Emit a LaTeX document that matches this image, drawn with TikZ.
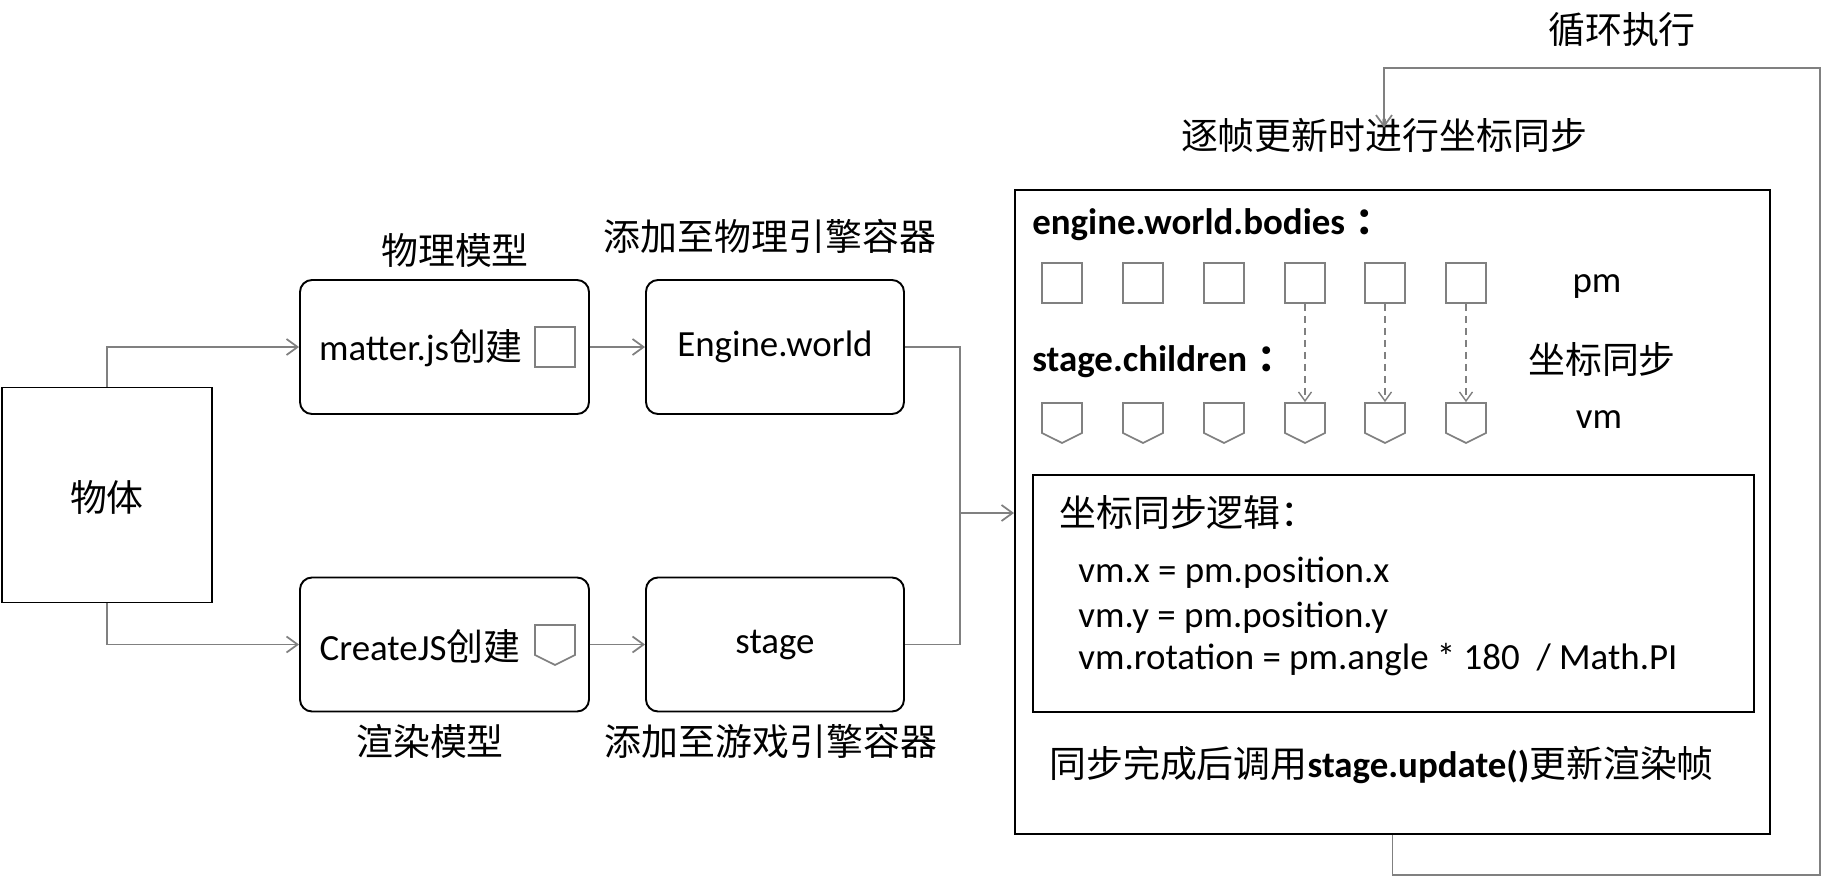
\documentclass[tikz,border=0pt]{standalone}
\usepackage{fontspec}
\setmainfont{Carlito}
\newfontfamily\cjk{Noto Sans CJK SC}
\usetikzlibrary{shapes,shapes.symbols,arrows.meta,positioning,calc}
\definecolor{lnkgray}{RGB}{128,128,128}
\newcommand{\zw}[1]{{\cjk #1}}

\begin{document}
\begin{tikzpicture}[x=0.2mm, y=-0.2mm,
  every node/.style={font=\fontsize{21pt}{25pt}\selectfont, inner sep=0pt},
  plainbox/.style={draw, line width=1.1pt},
  roundbox/.style={draw, line width=1.1pt, rounded corners=2.4mm, minimum height=26.8mm},
  pmicon/.style={draw=lnkgray, line width=1pt, minimum width=8mm, minimum height=8mm},
  vmicon/.style={draw=lnkgray, line width=1pt, signal, signal to=south, signal pointer angle=127, minimum width=8mm, minimum height=6mm},
  wire/.style={draw=lnkgray, line width=1pt},
  link/.style={wire, -{Straight Barb[length=2.2mm,width=3.2mm]}},
  syncline/.style={draw=lnkgray, line width=0.8pt, dash pattern=on 1.4mm off 1mm, -{Straight Barb[length=1.8mm,width=2.6mm]}}]
  \useasboundingbox (0,0) rectangle (1823,877);

  \node[plainbox, minimum width=42mm, minimum height=43mm] (obj) at (107,495) {};
  \node (objtxt) at (107,497) {\zw{物体}};

  \node[roundbox, minimum width=57.8mm] (mjs) at (444.5,347) {};
  \node (mjstxt) at (421,348) {matter.js\zw{创建}};
  \node[pmicon] (mjsicon) at (555,347) {};
  \node (mjslbl) at (455,250) {\zw{物理模型}};

  \node[roundbox, minimum width=57.8mm] (cjs) at (444.5,644.5) {};
  \node (cjstxt) at (420,646) {CreateJS\zw{创建}};
  \node[vmicon] (cjsicon) at (555,640) {};
  \node (cjslbl) at (430,741) {\zw{渲染模型}};

  \node[roundbox, minimum width=51.6mm] (ew) at (775,347) {Engine.world};
  \node (ewlbl) at (770,236) {\zw{添加至物理引擎容器}};
  \node[roundbox, minimum width=51.6mm] (stg) at (775,644.5) {stage};
  \node (stglbl) at (771,741) {\zw{添加至游戏引擎容器}};

  \node[plainbox, minimum width=151mm, minimum height=128.8mm] (big) at (1392.5,512) {};
  \node[plainbox, minimum width=144.2mm, minimum height=47.4mm] (logic) at (1393.5,593.5) {};

  \node[anchor=west] (bodies) at (1032,225) {\textbf{engine.world.bodies\hspace{2mm}\zw{：}}};
  \node[anchor=west] (children) at (1032,362) {\textbf{stage.children\hspace{2mm}\zw{：}}};
  \foreach \i/\x in {1/1062,2/1143,3/1224,4/1305,5/1385,6/1466} {
    \node[pmicon] (pm\i) at (\x,283) {};
    \node[vmicon] (vm\i) at (\x,418) {};
  }
  \node (pmtxt) at (1597,287) {pm};
  \node (vmtxt) at (1599,420) {vm};
  \node (synctxt) at (1602,360) {\zw{坐标同步}};
  \foreach \i in {4,5,6}
    \draw[syncline] (pm\i.south) -- (vm\i.north);

  \node[anchor=west] (logictitle) at (1059,513) {\zw{坐标同步逻辑：}};
  \node[anchor=west] (codea) at (1078,573) {vm.x = pm.position.x};
  \node[anchor=west] (codeb) at (1078,618) {vm.y = pm.position.y};
  \node[anchor=west] (codec) at (1078,660) {vm.rotation = pm.angle * 180 \ / Math.PI};
  \node[anchor=west] (update) at (1049,765) {\zw{同步完成后调用}\textbf{stage.update()}\zw{更新渲染帧}};

  \node (synclbl) at (1384,135) {\zw{逐帧更新时进行坐标同步}};
  \node (looplbl) at (1622,30) {\zw{循环执行}};

  \draw[link] (obj.north) |- (mjs.west);
  \draw[link] (obj.south) |- (cjs.west);
  \draw[link] (mjs.east) -- (ew.west);
  \draw[link] (cjs.east) -- (stg.west);
  \coordinate (jn) at (960,513);
  \draw[wire] (ew.east) -| (jn);
  \draw[wire] (stg.east) -| (jn);
  \draw[link] (jn) -- (big.west |- jn);
  \coordinate (loopbr) at (1820,875);
  \coordinate (looptr) at (1820,68);
  \draw[link] (big.south) |- (loopbr) -- (looptr) -| ([yshift=-2mm]synclbl.north);
\end{tikzpicture}
\end{document}
